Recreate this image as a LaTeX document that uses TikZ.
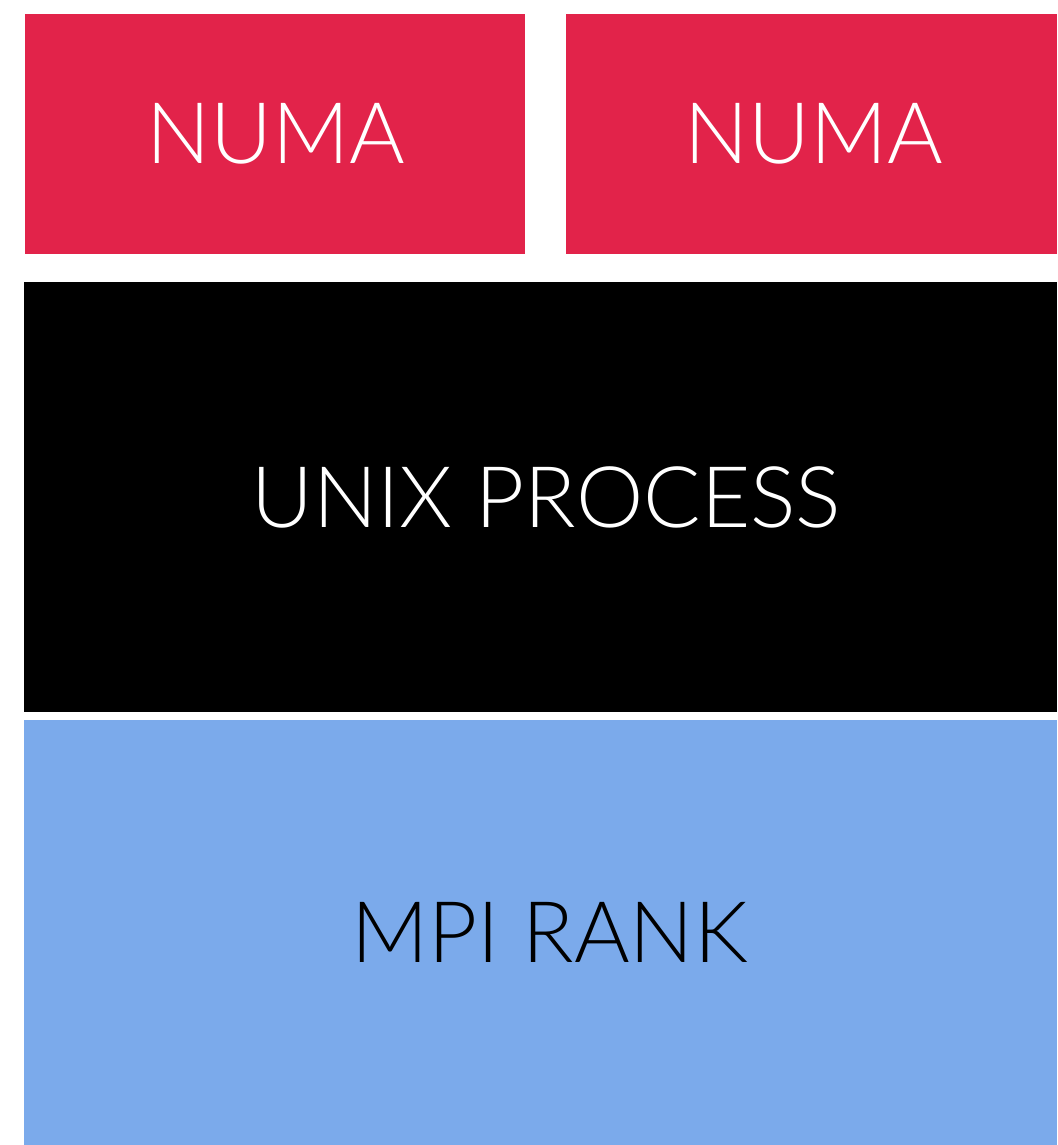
\documentclass[tikz,border=0pt]{standalone}
\usepackage{fontspec}
\setmainfont{Lato}[UprightFont={* Light}]
\definecolor{numared}{HTML}{E2234A}
\definecolor{mpiblue}{HTML}{7BAAEB}
\begin{document}
\begin{tikzpicture}[x=1pt,y=-1pt,
  block/.style={rectangle,inner sep=0pt,outer sep=0pt,draw=none,font=\fontsize{85}{96}\selectfont}]
\useasboundingbox[fill=white] (0,0) rectangle (1057,1145);
\node[block,fill=numared,text=white,minimum width=500pt,minimum height=240pt] (numa1) at (275,134) {\kern2pt NUMA};
\node[block,fill=numared,text=white,minimum width=491pt,minimum height=240pt] (numa2) at (811.5,134) {\kern5pt NUMA};
\node[block,fill=black,text=white,minimum width=1033pt,minimum height=430pt] (unix) at (540.5,497) {\kern12pt UNIX PROCESS};
\node[block,fill=mpiblue,text=black,minimum width=1033pt,minimum height=425pt] (mpi) at (540.5,932.5) {\kern18pt MPI RANK};
\end{tikzpicture}
\end{document}
